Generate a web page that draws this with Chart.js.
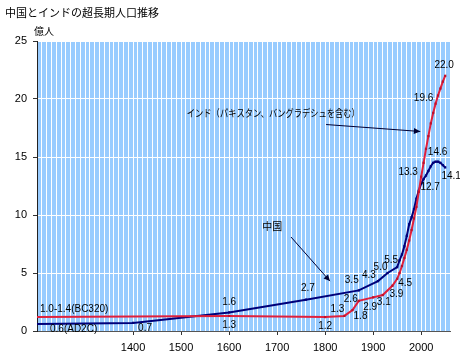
<!DOCTYPE html>
<html><head><meta charset="utf-8">
<script src="https://cdn.jsdelivr.net/npm/chart.js@4.4.1/dist/chart.umd.min.js"></script>
<style>html,body{margin:0;padding:0;background:#fff}#wrap{width:460px;height:355px}</style>
</head><body><div id="wrap"><canvas id="c" width="460" height="355"></canvas></div>
<script>
const chinaYears  = [1200,1400,1600,1760,1870,1910,1930,1950,1955,1960,1965,1970,1975,1980,1985,1990,1995,2000,2005,2010,2015,2020,2025,2030,2035,2040,2045,2050];
const chinaValues = [0.6,0.7,1.6,2.7,3.5,4.3,5.0,5.5,6.1,6.6,7.3,8.2,9.2,9.8,10.5,11.4,12.1,12.7,13.1,13.4,13.8,14.2,14.5,14.6,14.6,14.5,14.3,14.1];
const indiaYears  = [1200,1600,1800,1840,1857,1870,1900,1920,1940,1950,1955,1960,1965,1970,1975,1980,1985,1990,1995,2000,2005,2010,2015,2020,2025,2030,2035,2040,2045,2050];
const indiaValues = [1.2,1.3,1.2,1.3,1.8,2.6,2.9,3.1,3.9,4.5,5.0,5.6,6.3,7.0,7.8,8.7,9.7,10.7,12.0,13.3,14.5,15.7,16.8,17.9,18.8,19.6,20.3,20.9,21.5,22.0];
const chinaLabelYears = [1400,1600,1760,1870,1910,1930,1950,2000,2030,2050];
const indiaLabelYears = [1600,1800,1840,1857,1870,1900,1920,1940,1950,2000,2030,2050];
const yTicks = [0,5,10,15,20,25];
const xLabelYears = [1400,1500,1600,1700,1800,1900,2000];
const title = '中国とインドの超長期人口推移';
const unit = '億人';
const chinaNote = '0.6(AD2C)';
const indiaNote = '1.0-1.4(BC320)';
const chinaName = '中国';
const indiaName = 'インド（パキスタン、バングラデシュを含む）';

// label pixel offsets (style)
const chinaOffsets = {1400:[12,5],1600:[0,-10],1760:[2,-11],1870:[-7,-10],1910:[-9,-6],1930:[-7,-6],1950:[-6,-7],2000:[9,4],2030:[2,-9],2050:[6,9]};
const indiaOffsets = {1600:[0,9],1800:[0,9],1840:[-7,-7],1857:[8,6],1870:[-8,-2],1900:[-3,10],1920:[1,7],1940:[4,8],1950:[8,4],2000:[-13,-4],2030:[-12,-5],2050:[-1,-11]};

const pts = (xs, ys) => xs.map((x,i)=>({x:x,y:ys[i]}));
const NAVY = '#00007a', RED = '#e0203c';

const deco = {
  id:'deco',
  beforeDraw(chart){
    const {ctx, chartArea:a} = chart;
    ctx.save();
    ctx.fillStyle = '#99ccff';
    ctx.fillRect(a.left, a.top, a.right-a.left, a.bottom-a.top);
    ctx.restore();
  },
  afterDraw(chart){
    const {ctx} = chart;
    const xs = chart.scales.x, ys = chart.scales.y;
    ctx.save();
    ctx.fillStyle = '#000';
    ctx.font = '11px "Noto Sans CJK JP"';
    ctx.textBaseline = 'middle';
    ctx.textAlign = 'left';
    ctx.fillText(title, 5, 13);
    ctx.font = '10px "Noto Sans CJK JP"';
    ctx.fillText(unit, 34, 31);
    // value labels
    ctx.font = '10px "Liberation Sans"';
    ctx.textAlign = 'center';
    const drawLabels = (years, vals, labYears, offs) => {
      labYears.forEach(y => {
        const i = years.indexOf(y);
        const px = xs.getPixelForValue(y), py = ys.getPixelForValue(vals[i]);
        const o = offs[y];
        ctx.fillText(vals[i].toFixed(1), px+o[0], py+o[1]);
      });
    };
    drawLabels(chinaYears, chinaValues, chinaLabelYears, chinaOffsets);
    drawLabels(indiaYears, indiaValues, indiaLabelYears, indiaOffsets);
    ctx.textAlign = 'left';
    ctx.fillText(indiaNote, 40, ys.getPixelForValue(indiaValues[0]) - 8);
    ctx.fillText(chinaNote, 50, ys.getPixelForValue(chinaValues[0]) + 5);
    // annotations
    ctx.font = '10px "Noto Sans CJK JP"';
    ctx.textAlign = 'center';
    ctx.fillText(chinaName, xs.getPixelForValue(1690), ys.getPixelForValue(9.0));
    ctx.textAlign = 'left';
    ctx.fillText(indiaName, xs.getPixelForValue(1512), ys.getPixelForValue(18.8), 173);
    const arrow = (x1,y1,x2,y2) => {
      const ax = xs.getPixelForValue(x1), ay = ys.getPixelForValue(y1);
      const bx = xs.getPixelForValue(x2), by = ys.getPixelForValue(y2);
      ctx.strokeStyle = '#000033'; ctx.fillStyle = '#000033'; ctx.lineWidth = 1;
      ctx.beginPath(); ctx.moveTo(ax,ay); ctx.lineTo(bx,by); ctx.stroke();
      const ang = Math.atan2(by-ay, bx-ax), L = 7, W = 0.45;
      ctx.beginPath(); ctx.moveTo(bx,by);
      ctx.lineTo(bx - L*Math.cos(ang-W), by - L*Math.sin(ang-W));
      ctx.lineTo(bx - L*Math.cos(ang+W), by - L*Math.sin(ang+W));
      ctx.closePath(); ctx.fill();
    };
    arrow(1729, 8.1, 1810, 4.3);
    arrow(1802, 17.8, 1998, 17.2);
    ctx.restore();
  }
};

new Chart(document.getElementById('c'), {
  type:'line',
  data:{datasets:[
    {label:'インド', data:pts(indiaYears, indiaValues), borderColor:RED, backgroundColor:'#c0102a', borderWidth:2,
     pointStyle:'rect', pointRadius:c=>c.dataIndex===0?0:1.6, pointBorderWidth:0, tension:0},
    {label:'中国', data:pts(chinaYears, chinaValues), borderColor:NAVY, backgroundColor:NAVY, borderWidth:2,
     pointStyle:'rect', pointRadius:c=>c.dataIndex===0?0:1.6, pointBorderWidth:0, tension:0}
  ]},
  options:{
    responsive:false, animation:false, devicePixelRatio:1,
    layout:{padding:{left:0, top:41, right:10, bottom:0}},
    plugins:{legend:{display:false}, tooltip:{enabled:false}},
    scales:{
      x:{type:'linear', min:1200, max:2060,
        afterBuildTicks:s=>{const t=[];for(let v=1200;v<=2060;v+=10)t.push({value:v});s.ticks=t;},
        afterFit:s=>{s.height=24;},
        ticks:{autoSkip:false, maxRotation:0, padding:6, color:'#000', font:{family:'Liberation Sans', size:11},
          callback:v=>xLabelYears.includes(v)?String(v):''},
        grid:{color:'#ffffff', lineWidth:1, tickLength:4,
          tickColor:c=>(c.tick && xLabelYears.includes(c.tick.value))?'#333':'rgba(0,0,0,0)'},
        border:{color:'#555', width:1}
      },
      y:{min:0, max:25,
        afterBuildTicks:s=>{s.ticks=yTicks.map(v=>({value:v}));},
        afterFit:s=>{s.width=37;},
        ticks:{padding:6, color:'#000', font:{family:'Liberation Sans', size:11}},
        grid:{color:'#ffffff', lineWidth:1, tickLength:4, tickColor:'#333'},
        border:{color:'#222', width:1}
      }
    }
  },
  plugins:[deco]
});
</script></body></html>
